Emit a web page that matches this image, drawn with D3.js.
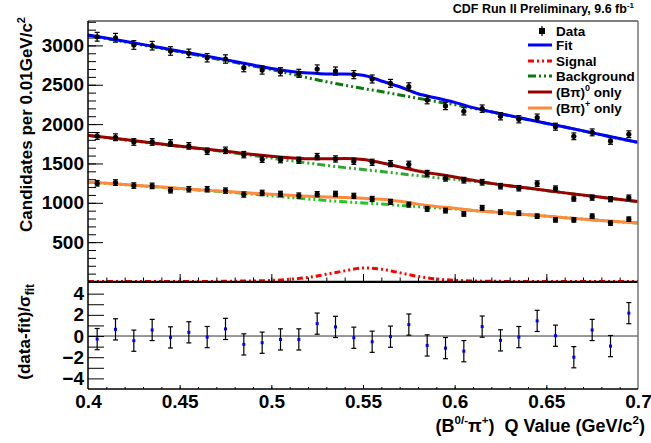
<!DOCTYPE html>
<html>
<head>
<meta charset="utf-8">
<script src="https://cdn.jsdelivr.net/npm/d3@7"></script>
<style>
  body { margin: 0; background: #fff; }
  svg { display: block; font-family: "Liberation Sans", Arial, Helvetica, sans-serif; font-weight: bold; }
</style>
</head>
<body>
<svg id="chart" width="651" height="443"></svg>
<script>
// bin centres (GeV/c^2)
const binCenters = [0.405, 0.415, 0.425, 0.435, 0.445, 0.455, 0.465, 0.475, 0.485, 0.495,
  0.505, 0.515, 0.525, 0.535, 0.545, 0.555, 0.565, 0.575, 0.585, 0.595,
  0.605, 0.615, 0.625, 0.635, 0.645, 0.655, 0.665, 0.675, 0.685, 0.695];

// data: all, (B pi)0 only, (B pi)+ only
const dataAll = [3110, 3097, 3005, 2996, 2929, 2899, 2843, 2827, 2717, 2687,
  2665, 2645, 2700, 2674, 2628, 2573, 2518, 2475, 2306, 2231,
  2163, 2196, 2099, 2061, 2082, 1967, 1845, 1895, 1786, 1871];
const dataZero = [1849, 1833, 1773, 1773, 1760, 1723, 1655, 1667, 1612, 1553,
  1548, 1541, 1587, 1557, 1528, 1515, 1498, 1490, 1375, 1312,
  1287, 1261, 1211, 1185, 1244, 1180, 1053, 1066, 1046, 1066];
const dataPlus = [1248, 1257, 1219, 1215, 1159, 1172, 1172, 1155, 1105, 1126,
  1113, 1092, 1109, 1113, 1088, 1049, 1012, 977, 923, 901,
  859, 936, 881, 868, 830, 783, 783, 830, 742, 792];

// (data-fit)/sigma for the total sample
const pulls = [-0.29, 0.63, -0.44, 0.57, -0.13, 0.35, -0.10, 0.67, -0.79, -0.63,
  -0.32, -0.32, 1.17, 0.86, -0.16, -0.54, -0.06, 1.08, -0.89, -1.14,
  -1.43, 0.89, -0.41, -0.10, 1.43, 0.03, -2.00, 0.57, -0.95, 2.16];

// fit curves read at these x values
const curveX = [0.40, 0.42, 0.44, 0.46, 0.48, 0.49, 0.50, 0.51, 0.52, 0.53, 0.54, 0.55,
  0.56, 0.57, 0.58, 0.59, 0.60, 0.61, 0.62, 0.64, 0.66, 0.68, 0.70];
const fitAll = [3131, 3053, 2969, 2885, 2796, 2751, 2707, 2672, 2650, 2637, 2636, 2622,
  2548, 2475, 2385, 2331, 2276, 2209, 2157, 2058, 1964, 1865, 1769];
const bkgAll = [3128, 3046, 2962, 2875, 2784, 2739, 2694, 2642, 2588, 2538, 2494, 2452,
  2413, 2370, 2328, 2286, 2248, 2202, 2155, 2056, 1962, 1863, 1767];
const fitZero = [1858, 1803, 1748, 1694, 1641, 1615, 1591, 1571, 1559, 1559, 1563, 1551,
  1509, 1456, 1405, 1365, 1329, 1286, 1247, 1187, 1126, 1070, 1016];
const bkgZero = [1854, 1799, 1743, 1689, 1633, 1601, 1568, 1536, 1506, 1476, 1447, 1423,
  1399, 1371, 1344, 1320, 1298, 1274, 1244, 1185, 1125, 1069, 1015];
const fitPlus = [1264, 1233, 1200, 1167, 1136, 1122, 1108, 1096, 1083, 1074, 1066, 1058,
  1046, 1019, 983, 954, 932, 903, 885, 849, 811, 775, 742];
const bkgPlus = [1262, 1231, 1197, 1163, 1130, 1110, 1090, 1068, 1049, 1029, 1012, 997,
  984, 967, 951, 937, 922, 903, 885, 849, 811, 775, 742];
const signal = [0, 0, 0, 0, 4, 7, 13, 28, 51, 92, 135, 172,
  157, 111, 65, 33, 15, 7, 3, 0, 0, 0, 0];

const xTicks = [0.4, 0.45, 0.5, 0.55, 0.6, 0.65, 0.7];
const yTicks = [500, 1000, 1500, 2000, 2500, 3000];
const pullTicks = [-4, -2, 0, 2, 4];

const svg = d3.select("#chart");
const left = 88, right = 638;
const topY = 21, midY = 281.5, botY = 389;

const x = d3.scaleLinear().domain([0.4, 0.7]).range([left, right]);
const y = d3.scaleLinear().domain([0, 3310]).range([midY, topY]);
const y2 = d3.scaleLinear().domain([-5, 5.1]).range([botY, midY + 0.5]);

const colAll = "#0000ff", colSig = "#ff0000", colZero = "#990000", colPlus = "#ff8a3d";

const boldText = g => g.selectAll("text")
  .attr("font-size", 19).attr("font-family", "Liberation Sans, Arial")
  .attr("font-weight", "bold").attr("fill", "#000");

// ---- top panel axes
const gTop = svg.append("g");

gTop.append("g")
  .attr("transform", `translate(${left},0)`)
  .call(d3.axisLeft(y).tickValues(d3.range(100, 3310, 100)).tickSize(-8).tickFormat(""))
  .call(g => g.select(".domain").remove())
  .selectAll("line").attr("stroke", "#000");

gTop.append("g")
  .attr("transform", `translate(${left},0)`)
  .call(d3.axisLeft(y).tickValues(yTicks).tickSize(-15).tickPadding(4).tickFormat(d3.format("d")))
  .call(g => g.select(".domain").remove())
  .call(g => g.selectAll("line").attr("stroke", "#000"))
  .call(boldText);

gTop.append("g")
  .attr("transform", `translate(0,${midY})`)
  .call(d3.axisTop(x).tickValues(d3.range(0.41, 0.695, 0.01)).tickSize(4).tickFormat(""))
  .call(g => g.select(".domain").remove())
  .selectAll("line").attr("stroke", "#000");
gTop.append("g")
  .attr("transform", `translate(0,${midY})`)
  .call(d3.axisTop(x).tickValues(xTicks.slice(1, -1)).tickSize(7.5).tickFormat(""))
  .call(g => g.select(".domain").remove())
  .selectAll("line").attr("stroke", "#000");

// ---- curves
const curve = (vals, sc) => d3.line()
  .x((d, i) => x(curveX[i]))
  .y(d => sc(d))
  .curve(d3.curveMonotoneX)(vals);

const dashBkg = "8,3,2,3,2,3";
const dashSig = "6,3,2,3,2,3";

gTop.append("path").attr("d", curve(signal, y))
  .attr("fill", "none").attr("stroke", colSig).attr("stroke-width", 3).attr("stroke-dasharray", dashSig);

[[bkgAll, "#0a7a0a"], [bkgZero, "#2ea82e"], [bkgPlus, "#20c820"]].forEach(([vals, c]) => {
  gTop.append("path").attr("d", curve(vals, y))
    .attr("fill", "none").attr("stroke", c).attr("stroke-width", 3).attr("stroke-dasharray", dashBkg);
});

[[fitAll, colAll], [fitZero, colZero], [fitPlus, colPlus]].forEach(([vals, c]) => {
  gTop.append("path").attr("d", curve(vals, y))
    .attr("fill", "none").attr("stroke", c).attr("stroke-width", 3);
});

// ---- data points
[dataAll, dataZero, dataPlus].forEach(vals => {
  const pts = gTop.append("g").selectAll("g").data(vals).join("g")
    .attr("transform", (d, i) => `translate(${x(binCenters[i])},0)`);
  pts.append("line")
    .attr("y1", d => y(d - Math.sqrt(d))).attr("y2", d => y(d + Math.sqrt(d)))
    .attr("stroke", "#000").attr("stroke-width", 1.2);
  pts.append("line").attr("x1", -2.5).attr("x2", 2.5)
    .attr("y1", d => y(d + Math.sqrt(d))).attr("y2", d => y(d + Math.sqrt(d)))
    .attr("stroke", "#000").attr("stroke-width", 1.2);
  pts.append("line").attr("x1", -2.5).attr("x2", 2.5)
    .attr("y1", d => y(d - Math.sqrt(d))).attr("y2", d => y(d - Math.sqrt(d)))
    .attr("stroke", "#000").attr("stroke-width", 1.2);
  pts.append("circle").attr("cy", d => y(d)).attr("r", 2.6).attr("fill", "#000");
});

// ---- top frame
gTop.append("line").attr("x1", left).attr("x2", right).attr("y1", topY).attr("y2", topY).attr("stroke", "#000");
gTop.append("line").attr("x1", right).attr("x2", right).attr("y1", topY).attr("y2", midY).attr("stroke", "#777").attr("stroke-width", 1.5);
gTop.append("line").attr("x1", left).attr("x2", left).attr("y1", topY).attr("y2", midY).attr("stroke", "#000").attr("stroke-width", 1.5);
gTop.append("line").attr("x1", left).attr("x2", right).attr("y1", midY).attr("y2", midY).attr("stroke", "#000").attr("stroke-width", 1.5);

// ---- bottom panel
const gBot = svg.append("g");

gBot.append("line").attr("x1", left).attr("x2", right).attr("y1", y2(0)).attr("y2", y2(0))
  .attr("stroke", "#333").attr("stroke-width", 1);

gBot.append("g")
  .attr("transform", `translate(${left},0)`)
  .call(d3.axisLeft(y2).tickValues(d3.range(-4, 5, 1)).tickSize(-16).tickFormat(""))
  .call(g => g.select(".domain").remove())
  .selectAll("line").attr("stroke", "#000");
gBot.append("g")
  .attr("transform", `translate(${left},0)`)
  .call(d3.axisLeft(y2).tickValues(pullTicks).tickSize(0).tickPadding(4))
  .call(g => g.select(".domain").remove())
  .call(boldText);

gBot.append("g")
  .attr("transform", `translate(0,${botY})`)
  .call(d3.axisTop(x).tickValues(d3.range(0.41, 0.695, 0.01)).tickSize(2).tickFormat(""))
  .call(g => g.select(".domain").remove())
  .selectAll("line").attr("stroke", "#000");
gBot.append("g")
  .attr("transform", `translate(0,${botY})`)
  .call(d3.axisTop(x).tickValues(xTicks.slice(1, -1)).tickSize(4).tickFormat(""))
  .call(g => g.select(".domain").remove())
  .selectAll("line").attr("stroke", "#000");

gBot.append("g")
  .attr("transform", `translate(0,${botY})`)
  .call(d3.axisBottom(x).tickValues(xTicks).tickSize(0).tickPadding(6).tickFormat(d3.format("")))
  .call(g => g.select(".domain").remove())
  .call(boldText);

const pp = gBot.append("g").selectAll("g").data(pulls).join("g")
  .attr("transform", (d, i) => `translate(${x(binCenters[i])},0)`);
pp.append("line").attr("y1", d => y2(d - 1)).attr("y2", d => y2(d + 1))
  .attr("stroke", "#000").attr("stroke-width", 1.2);
[1, -1].forEach(s => {
  pp.append("line").attr("x1", -2.5).attr("x2", 2.5)
    .attr("y1", d => y2(d + s)).attr("y2", d => y2(d + s))
    .attr("stroke", "#000").attr("stroke-width", 1.2);
});
pp.append("rect").attr("x", -1.5).attr("y", d => y2(d) - 1.5).attr("width", 3).attr("height", 3).attr("fill", "#0000ff");

gBot.append("line").attr("x1", left).attr("x2", right).attr("y1", midY + 1).attr("y2", midY + 1).attr("stroke", "#000");
gBot.append("line").attr("x1", right).attr("x2", right).attr("y1", midY).attr("y2", botY).attr("stroke", "#777").attr("stroke-width", 1.5);
gBot.append("line").attr("x1", left).attr("x2", left).attr("y1", midY).attr("y2", botY).attr("stroke", "#000").attr("stroke-width", 1.5);
gBot.append("line").attr("x1", left).attr("x2", right).attr("y1", botY).attr("y2", botY).attr("stroke", "#000").attr("stroke-width", 1.5);

// ---- titles
const yt = svg.append("text")
  .attr("transform", "translate(32,17) rotate(-90)")
  .attr("text-anchor", "end").attr("font-size", 17);
yt.append("tspan").text("Candidates per 0.01GeV/c");
yt.append("tspan").attr("font-size", 11).attr("dy", -7).text("2");

const yt2 = svg.append("text")
  .attr("transform", "translate(30,284) rotate(-90)")
  .attr("text-anchor", "end").attr("font-size", 17);
yt2.append("tspan").text("(data-fit)/σ");
yt2.append("tspan").attr("font-size", 12).attr("dy", 4).text("fit");

const xt = svg.append("text")
  .attr("x", 645).attr("y", 432)
  .attr("text-anchor", "end").attr("font-size", 18);
xt.append("tspan").text("(B");
xt.append("tspan").attr("font-size", 11.5).attr("dy", -8).text("0/-");
xt.append("tspan").attr("dy", 8).text("π");
xt.append("tspan").attr("font-size", 11.5).attr("dy", -8).text("+");
xt.append("tspan").attr("dy", 8).attr("style", "white-space:pre").text(")  Q Value (GeV/c");
xt.append("tspan").attr("font-size", 11.5).attr("dy", -8).text("2");
xt.append("tspan").attr("dy", 8).text(")");

const hd = svg.append("text")
  .attr("x", 634).attr("y", 13)
  .attr("text-anchor", "end").attr("font-size", 12.5);
hd.append("tspan").text("CDF Run II Preliminary, 9.6 fb");
hd.append("tspan").attr("font-size", 8).attr("dy", -5).text("-1");

// ---- legend
const legendRows = [
  { label: "Data", kind: "data" },
  { label: "Fit", color: colAll },
  { label: "Signal", color: colSig, dash: dashSig },
  { label: "Background", color: "#0a7a0a", dash: dashBkg },
  { label: "(Bπ)", sup: "0", rest: " only", color: colZero },
  { label: "(Bπ)", sup: "+", rest: " only", color: colPlus }
];
const legendY = [31, 45, 61, 76, 92, 108];

const lg = svg.append("g").selectAll("g").data(legendRows).join("g")
  .attr("transform", (d, i) => `translate(0,${legendY[i]})`);
lg.each(function (d) {
  const g = d3.select(this);
  if (d.kind === "data") {
    g.append("line").attr("x1", 542).attr("x2", 542).attr("y1", -5).attr("y2", 5).attr("stroke", "#000").attr("stroke-width", 1.2);
    g.append("rect").attr("x", 539).attr("y", -3).attr("width", 6).attr("height", 6).attr("fill", "#000");
  } else {
    g.append("line").attr("x1", 528).attr("x2", 552).attr("y1", 0).attr("y2", 0)
      .attr("stroke", d.color).attr("stroke-width", 3)
      .attr("stroke-dasharray", d.dash || null);
  }
  const t = g.append("text").attr("x", 556).attr("y", 5).attr("font-size", 13.5);
  t.append("tspan").text(d.label);
  if (d.sup) {
    t.append("tspan").attr("font-size", 9).attr("dy", -6).text(d.sup);
    t.append("tspan").attr("dy", 6).text(d.rest);
  }
});
</script>
</body>
</html>
